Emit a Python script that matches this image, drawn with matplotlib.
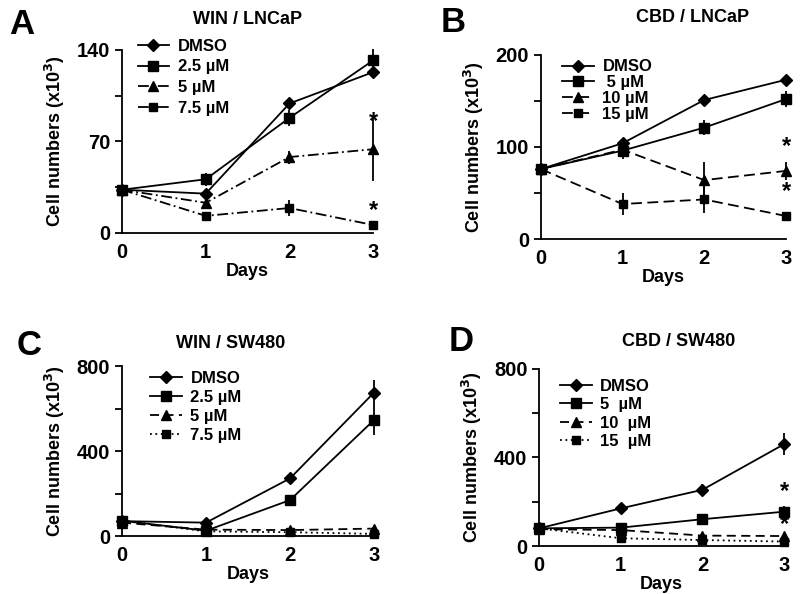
import numpy as np
import matplotlib
matplotlib.use("Agg")
import matplotlib.pyplot as plt

plt.rcParams['font.family'] = ['Liberation Sans', 'DejaVu Sans']
plt.rcParams['font.weight'] = 'bold'
plt.rcParams['axes.labelweight'] = 'bold'
plt.rcParams['mathtext.default'] = 'bf'

days = [0, 1, 2, 3]

# A: WIN / LNCaP
a_labels = ['DMSO', '2.5 \u00b5M', '5 \u00b5M', '7.5 \u00b5M']
a_mean = [[33, 30, 99, 123], [33, 41, 88, 132], [33, 23, 58, 64], [33, 13, 19, 6]]
a_err = [[2, 3, 3, 3], [2, 5, 6, 9], [2, 4, 5, 24], [2, 2, 6, 2]]

# B: CBD / LNCaP
b_labels = ['DMSO', ' 5 \u00b5M', '10 \u00b5M', '15 \u00b5M']
b_mean = [[76, 104, 151, 173], [76, 96, 121, 152], [76, 97, 64, 74], [76, 38, 43, 25]]
b_err = [[2, 3, 4, 4], [2, 9, 8, 9], [2, 5, 20, 10], [2, 12, 15, 4]]

# C: WIN / SW480
c_labels = ['DMSO', '2.5 \u00b5M', '5 \u00b5M', '7.5 \u00b5M']
c_mean = [[70, 63, 271, 675], [72, 25, 169, 546], [63, 30, 28, 35], [72, 22, 18, 10]]
c_err = [[5, 5, 10, 60], [5, 5, 10, 70], [5, 4, 5, 5], [5, 4, 4, 4]]

# D: CBD / SW480
d_labels = ['DMSO', '5  \u00b5M', '10  \u00b5M', '15  \u00b5M']
d_mean = [[80, 170, 254, 460], [80, 83, 121, 155], [76, 72, 47, 45], [80, 35, 27, 20]]
d_err = [[5, 20, 25, 50], [5, 8, 8, 25], [5, 5, 6, 8], [5, 6, 5, 5]]

markers = ['D', 's', '^', 's']
msizes = [6.5, 6.5, 7.5, 6]

fig = plt.figure(figsize=(8, 5.94), dpi=100)


def panel(rect, labels, means, errs, styles, ymax, step, label_step,
          title, title_xy, letter, letter_xy, leg_xy, stars, lspace):
    ax = fig.add_axes(rect)
    for i in range(4):
        ax.errorbar(days, means[i], yerr=errs[i], fmt='none', ecolor='black',
                    elinewidth=1.3, capsize=0, clip_on=False, zorder=3)
        ax.plot(days, means[i], color='black', linestyle=styles[i], linewidth=1.3,
                marker=markers[i], markersize=msizes[i], label=labels[i],
                clip_on=False, zorder=4)
    ax.set_xlim(0, 3)
    ax.set_ylim(0, ymax)
    ax.set_xticks(days)
    ax.set_yticks(np.arange(0, ymax + 1, step))
    ax.set_yticklabels([str(int(v)) if v % label_step == 0 else ''
                        for v in np.arange(0, ymax + 1, step)])
    ax.tick_params(axis='x', length=0, pad=7, labelsize=14.5)
    ax.tick_params(axis='y', length=5, width=1.3, labelsize=14.5)
    for s in ['top', 'right']:
        ax.spines[s].set_visible(False)
    for s in ['left', 'bottom']:
        ax.spines[s].set_linewidth(1.3)
    ax.set_xlabel('Days', fontsize=13, labelpad=1)
    ax.set_ylabel(r'Cell numbers (x10$^{3}$)', fontsize=13, labelpad=7)
    for sv in stars:
        ax.text(3, sv, '*', ha='center', va='center', fontsize=17)
    fig.text(title_xy[0], title_xy[1], title, ha='center', va='center', fontsize=13)
    fig.text(letter_xy[0], letter_xy[1], letter, ha='center', va='center', fontsize=25)
    ax.legend(loc='upper left', bbox_to_anchor=leg_xy, bbox_transform=fig.transFigure,
              frameon=False, handlelength=1.9, handletextpad=0.5, borderpad=0,
              borderaxespad=0, labelspacing=lspace, fontsize=12, numpoints=1)
    return ax


panel([0.1525, 0.608, 0.314, 0.308], a_labels, a_mean, a_err,
      ['-', '-', (0, (6, 2, 1, 2)), (0, (6, 2, 1, 2))], 140, 35, 70,
      'WIN / LNCaP', (0.309, 0.968), 'A', (0.027, 0.958), (0.172, 0.935),
      [85, 17], 0.35)

panel([0.676, 0.5976, 0.3065, 0.31], b_labels, b_mean, b_err,
      ['-', '-', (0, (6, 3)), (0, (6, 3))], 200, 50, 100,
      'CBD / LNCaP', (0.866, 0.97), 'B', (0.567, 0.962), (0.703, 0.9),
      [100, 52], 0.05)

panel([0.1525, 0.0976, 0.315, 0.2862], c_labels, c_mean, c_err,
      ['-', '-', (0, (5, 3)), (0, (1, 2))], 800, 200, 400,
      'WIN / SW480', (0.288, 0.422), 'C', (0.036, 0.418), (0.188, 0.376),
      [], 0.25)

panel([0.674, 0.0808, 0.306, 0.298], d_labels, d_mean, d_err,
      ['-', '-', (0, (5, 3)), (0, (1, 2))], 800, 200, 400,
      'CBD / SW480', (0.848, 0.425), 'D', (0.577, 0.425), (0.70, 0.362),
      [245, 95], 0.2)

fig.savefig('out.png', dpi=100)
